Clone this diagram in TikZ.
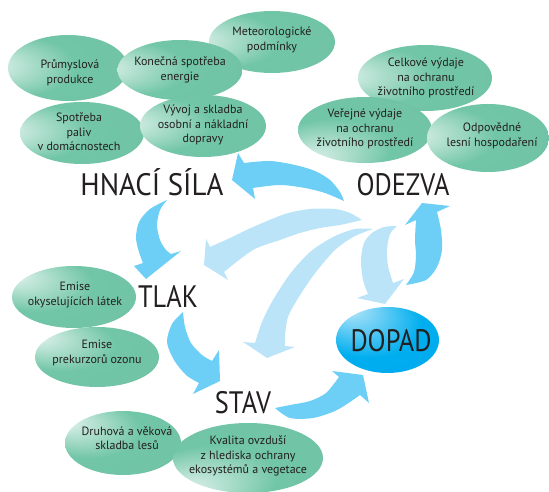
\documentclass[tikz,border=0pt]{standalone}
\usepackage{fontspec}
\usepackage{graphicx}
\setmainfont{PT Sans}
\usetikzlibrary{shapes.geometric}
\definecolor{gmain}{RGB}{114,198,168}
\definecolor{darkarr}{RGB}{109,207,246}
\definecolor{lightarr}{RGB}{187,228,248}
\definecolor{txt}{RGB}{35,31,32}
\definecolor{bmain}{RGB}{0,174,239}
\definecolor{blight}{RGB}{210,238,250}
\pgfdeclareradialshading{gL}{\pgfpoint{-34bp}{2bp}}{color(0bp)=(white!92!gmain); color(5bp)=(white!62!gmain); color(22bp)=(gmain); color(50bp)=(gmain!97!black)}
\pgfdeclareradialshading{gUL}{\pgfpoint{-26bp}{18bp}}{color(0bp)=(white!92!gmain); color(5bp)=(white!62!gmain); color(22bp)=(gmain); color(50bp)=(gmain!97!black)}
\pgfdeclareradialshading{gBL}{\pgfpoint{-22bp}{-24bp}}{color(0bp)=(white!92!gmain); color(5bp)=(white!62!gmain); color(22bp)=(gmain); color(50bp)=(gmain!97!black)}
\pgfdeclareradialshading{blueball}{\pgfpoint{-20bp}{26bp}}{color(0bp)=(blight); color(6bp)=(blight!70!bmain); color(26bp)=(bmain); color(50bp)=(bmain!96!blue)}
\tikzset{
  ge/.style n args={3}{shade, shading=#1, ellipse, inner sep=0pt, draw=none, minimum width=#2, minimum height=#3},
  small/.style={font=\fontsize{12}{14.5}\selectfont, text=txt, align=center, inner sep=0pt},
  big/.style={font=\fontsize{31}{34}\selectfont, text=txt, inner sep=0pt, anchor=base},
  darkfill/.style={fill=darkarr},
  lightfill/.style={fill=lightarr},
}
\begin{document}
\begin{tikzpicture}[x=1pt,y=-1pt]
\useasboundingbox (0,0) rectangle (549,492);
% light arrows
\fill[lightfill] plot[smooth] coordinates {(362,220) (350,213) (335,209) (310,209) (285,214) (253,227) (230,238) (210,247)} -- (206,239) -- (204,265) -- (228,280) -- plot[smooth] coordinates {(224,272) (253,250) (280,240) (300,233) (320,228) (340,225) (362,220)} -- cycle;
\fill[lightfill] plot[smooth] coordinates {(373,229) (355,229) (333,237) (310,252) (290,274) (273,300) (262,322) (255,343)} -- (243,342) -- (267,358) -- (295,347) -- plot[smooth] coordinates {(285,346) (285,335) (288,317) (297,300) (310,280) (320,267) (335,250) (353,237) (373,229)} -- cycle;
\fill[lightfill] plot[smooth] coordinates {(397,226) (390,234) (387,250) (388,266) (393,283)} -- (404,279) -- (385,304) -- (357,298) -- plot[smooth] coordinates {(368,294) (363,280) (361,260) (364,243) (372,233) (384,227) (397,226)} -- cycle;
% dark arrows
\fill[darkfill] plot[smooth] coordinates {(344,201) (340,192) (330,180) (315,171) (295,165) (270,161) (244,163)} -- (238,153) -- (232,180) -- (255,199) -- plot[smooth] coordinates {(253,188) (280,185) (305,188) (325,193) (344,201)} -- cycle;
\fill[darkfill] plot[smooth] coordinates {(167,200) (160,210) (157,225) (160,240) (166,250) (171,254)} -- (181,251) -- (146,279) -- (134,266) -- plot[smooth] coordinates {(143,263) (139,252) (136,238) (139,222) (150,209) (167,200)} -- cycle;
\fill[darkfill] plot[smooth] coordinates {(183,312) (185,327) (191,343) (202,355) (212,361)} -- (219,350) -- (220,381) -- (193,394) -- plot[smooth] coordinates {(199,383) (186,375) (174,360) (167,342) (172,324) (183,312)} -- cycle;
\fill[darkfill] plot[smooth] coordinates {(275,408) (290,405) (310,401) (326,393) (339,377)} -- (332,371) -- (363,375) -- (369,403) -- plot[smooth] coordinates {(360,395) (350,402) (335,411) (313,418) (290,418) (275,408)} -- cycle;
\fill[darkfill] plot[smooth] coordinates {(406,285) (414,272) (416,255) (415,240) (416,220)} -- (405,225) -- (422,203) -- (450,206) -- plot[smooth] coordinates {(437,212) (441,230) (442,250) (437,267) (426,280) (406,285)} -- cycle;
% ellipses
\node[ge={gL}{120pt}{66pt}] (e1) at (68,68) {};
\node[ge={gL}{126pt}{62pt}] (e3) at (272,42) {};
\node[ge={gL}{125pt}{60pt}] (e2) at (180,70) {};
\node[ge={gL}{124pt}{62pt}] (e4) at (82,133) {};
\node[ge={gL}{126pt}{62pt}] (e5) at (203,126) {};
\node[ge={gL}{134pt}{66pt}] (e6) at (425,78) {};
\node[ge={gBL}{134pt}{66pt}] (e7) at (365,130) {};
\node[ge={gL}{122pt}{68pt}] (e8) at (488,138) {};
\node[ge={gUL}{124pt}{62pt}] (e9) at (74,297) {};
\node[ge={gUL}{124pt}{60pt}] (e10) at (97,357) {};
\node[ge={gUL}{116pt}{64pt}] (e11) at (123,443) {};
\node[ge={gBL}{150pt}{70pt}] (e12) at (248,458) {};
\node[ge={blueball}{103pt}{66pt}] (dopadell) at (387.5,340) {};
% small texts
\node[small] (t1) at (70,73) {Průmyslová\\produkce};
\node[small] (t2) at (180,70) {Konečná spotřeba\\energie};
\node[small] (t3) at (272,40) {Meteorologické\\podmínky};
\node[small] (t4) at (79,132) {Spotřeba\\paliv\\v domácnostech};
\node[small] (t5) at (203,125) {Vývoj a skladba\\osobní a nákladní\\dopravy};
\node[small] (t6) at (426,78) {Celkové výdaje\\na ochranu\\životního prostředí};
\node[small] (t7) at (365,129) {Veřejné výdaje\\na ochranu\\životního prostředí};
\node[small] (t8) at (492,136) {Odpovědné\\lesní hospodaření};
\node[small] (t9) at (75,295) {Emise\\okyselujících látek};
\node[small] (t10) at (97,353) {Emise\\prekurzorů ozonu};
\node[small] (t11) at (127,438) {Druhová a věková\\skladba lesů};
\node[small] (t12) at (248,456) {Kvalita ovzduší\\z hlediska ochrany\\ekosystémů a vegetace};
% big labels
\node[big] (hnaci) at (152,195) {\scalebox{0.93}[1]{HNACÍ SÍLA}};
\node[big] (odezva) at (403,195) {\scalebox{0.85}[1]{ODEZVA}};
\node[big] (tlak) at (168,307) {\scalebox{0.85}[1]{TLAK}};
\node[big] (stav) at (243,413) {\scalebox{0.85}[1]{STAV}};
\node[big] (dopad) at (391,351.5) {\scalebox{0.85}[1]{DOPAD}};
\end{tikzpicture}
\end{document}
